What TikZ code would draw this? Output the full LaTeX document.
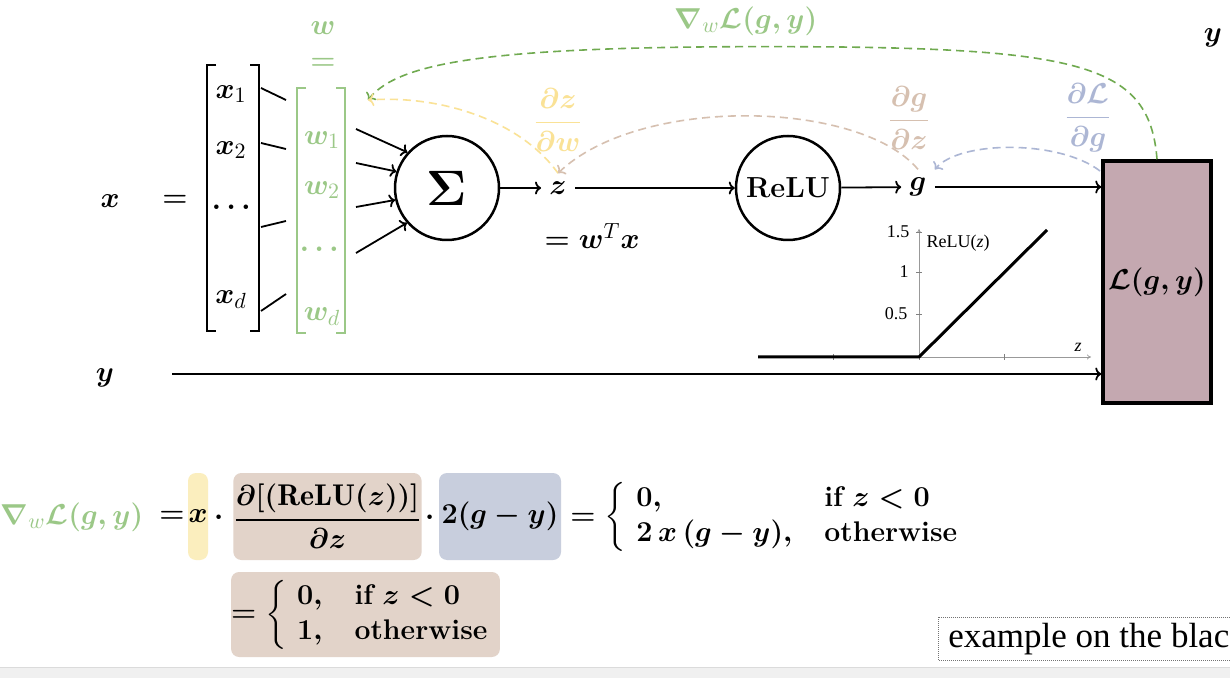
\documentclass[tikz,border=0pt]{standalone}
\usepackage{fontspec}
\usepackage{amsmath}
\usetikzlibrary{arrows.meta}
\newfontfamily\serifB{Liberation Serif}
\newcommand{\nb}[1]{\text{\unboldmath$#1$}}
\definecolor{wgreen}{RGB}{155,200,135}
\definecolor{dgreen}{RGB}{112,170,80}
\definecolor{yel}{RGB}{250,226,150}
\definecolor{yelbox}{RGB}{251,238,190}
\definecolor{tanc}{RGB}{214,192,176}
\definecolor{tanbox}{RGB}{226,211,201}
\definecolor{blu}{RGB}{172,182,212}
\definecolor{blubox}{RGB}{200,206,221}
\definecolor{lossfill}{RGB}{196,168,176}
\begin{document}
\begin{tikzpicture}[x=0.5pt,y=-0.5pt,
  lab/.style={inner sep=1pt,font=\fontsize{15}{18}\selectfont\boldmath},
  grn/.style={lab,text=wgreen},
  arr/.style={line width=0.9pt,-{To[length=3pt,width=6.5pt]}},
  link/.style={line width=0.9pt},
  dsh/.style={line width=0.8pt,dash pattern=on 4pt off 2.5pt,-{To[length=3pt,width=6.5pt]}},
  hbox/.style={rounded corners=4pt,inner sep=0pt,minimum height=43.5pt},
  tickm/.style={gray,line width=0.3pt},
  small/.style={inner sep=1pt,font=\serifB\fontsize{9}{10}\selectfont},
  axisl/.style={gray!80,line width=0.35pt,-{To[length=2pt,width=2.5pt]}},
  eqs/.style={inner sep=1pt,font=\fontsize{14.2}{17.5}\selectfont\boldmath},
]
\useasboundingbox (0,0) rectangle (1230,678);
\clip (0,0) rectangle (1230,678);
\fill[white] (0,0) rectangle (1230,678);

% ---- input vector x
\node[lab] (xl) at (110,201) {$x$};
\node[lab] (xeq) at (175,201) {$=$};
\draw[line width=1.3pt] (216,65) -- (207,65) -- (207,331) -- (216,331);
\draw[line width=1.3pt] (250,65) -- (259,65) -- (259,331) -- (250,331);
\node[lab] (x1) at (231,94) {$x_{\nb{1}}$};
\node[lab] (x2) at (231,150) {$x_{\nb{2}}$};
\node[lab] (xdots) at (234,207) {$\dots$};
\node[lab] (xd) at (231,300) {$x_{\nb{d}}$};

% ---- weight vector w
\node[grn] (wl) at (323,28) {$w$};
\node[grn] (weq) at (323,64) {$=$};
\draw[wgreen,line width=1pt] (306,88) -- (297,88) -- (297,333) -- (306,333);
\draw[wgreen,line width=1pt] (336,88) -- (345,88) -- (345,333) -- (336,333);
\node[grn] (w1) at (322,140) {$w_{\nb{1}}$};
\node[grn] (w2) at (322,190) {$w_{\nb{2}}$};
\node[grn] (wdots) at (322,249) {$\dots$};
\node[grn] (wd) at (322,317) {$w_{\nb{d}}$};

% ---- links x -> w
\coordinate (a1) at (261,88);  \coordinate (b1) at (286,100);
\coordinate (a2) at (261,143); \coordinate (b2) at (286,149);
\coordinate (a3) at (261,227); \coordinate (b3) at (286,221);
\coordinate (a4) at (261,311); \coordinate (b4) at (286,294);
\draw[link] (a1) -- (b1);
\draw[link] (a2) -- (b2);
\draw[link] (a3) -- (b3);
\draw[link] (a4) -- (b4);

% ---- sum node
\node[circle,draw,line width=1.25pt,minimum size=52pt,inner sep=0pt,font=\fontsize{27}{30}\selectfont\boldmath] (sig) at (447,188) {$\Sigma$};
\coordinate (i1) at (356,129);
\coordinate (i2) at (356,163);
\coordinate (i3) at (356,207);
\coordinate (i4) at (356,253);
\draw[arr] (i1) -- (sig.138);
\draw[arr] (i2) -- (sig.162);
\draw[arr] (i3) -- (sig.193);
\draw[arr] (i4) -- (sig.221);

% ---- z, ReLU, g
\node[lab,inner sep=4pt] (z) at (558,188) {$z$};
\draw[arr] (sig) -- (z);
\node[lab] (wtx) at (592,236) {$=w^{\nb{T}}x$};
\node[circle,draw,line width=1.25pt,minimum size=52pt,inner sep=0pt,font=\fontsize{14.5}{17}\selectfont\bfseries] (relu) at (788,188) {ReLU};
\draw[arr] (z) -- (relu);
\node[lab,inner sep=4pt] (g) at (918,187) {$g$};
\draw[arr] (relu) -- (g);

% ---- loss box
\node[lab,draw,line width=1.75pt,fill=lossfill,minimum width=54pt,minimum height=121pt,inner sep=0pt,font=\fontsize{15.5}{18}\selectfont\boldmath] (L) at (1157,282) {$\mathcal{L}(g,y)$};
\draw[arr] (g) -- (g -| L.west);
\node[lab] (yl) at (105,378) {$y$};
\coordinate (ys) at (172,374);
\draw[arr] (ys) -- (ys -| L.west);
\node[lab] (ytr) at (1213,38) {$y$};

% ---- ReLU plot
\draw[axisl] (758,357) -- (1091,357);
\draw[axisl] (919,357) -- (919,229);
\foreach \yy in {314,272,232} \draw[tickm] (916,\yy) -- (922,\yy);
\foreach \xx in {833,919,1004} \draw[tickm] (\xx,354) -- (\xx,360);
\draw[line width=1.5pt] (758,357) -- (919,357) -- (1047,230);
\node[small] (t15) at (898,232) {1.5};
\node[small] (t1) at (904,272) {1};
\node[small] (t05) at (896,314) {0.5};
\node[small] (rlab) at (958,243) {ReLU(\textit{z})};
\node[small] (zlab) at (1078,347) {\textit{z}};

% ---- backward (dashed) arrows and labels
\node[grn,inner sep=0pt] (gradlab) at (746,21) {$\nabla_{\nb{w}}\mathcal{L}(g,y)$};
\coordinate (wtip) at (368,100);
\coordinate (bstart) at (1100,171);
\draw[dsh,dgreen] (L.north) .. controls (1150,70) and (1090,50) .. (840,47) .. controls (500,44) and (400,60) .. (wtip);
\draw[dsh,yel] (z.north) .. controls (520,120) and (440,95) .. (wtip);
\draw[dsh,tanc] (g.north) .. controls (860,100) and (640,95) .. (z.north);
\draw[dsh,blu] (bstart) .. controls (1060,140) and (960,140) .. (g.north east);
\node[lab,text=yel] (dzdw) at (558,120) {$\displaystyle\frac{\partial z}{\partial w}$};
\node[lab,text=tanc] (dgdz) at (909,118) {$\displaystyle\frac{\partial g}{\partial z}$};
\node[lab,text=blu] (dLdg) at (1088,118) {$\displaystyle\frac{\partial \mathcal{L}}{\partial g}$};

% ---- bottom equation
\node[grn] (eqL) at (72,517) {$\nabla_{\nb{w}}\mathcal{L}(g,y)$};
\node[lab] (eq1) at (172,517) {$=$};
\node[lab,hbox,fill=yelbox,minimum width=10pt] (xb) at (198,516.5) {$x$};
\node[lab,anchor=base] (dot1) at (219,524) {$\cdot$};
\node[lab,hbox,fill=tanbox,minimum width=92.5pt] (fb) at (327.5,516.5) {$\displaystyle\frac{\partial[(\mathrm{ReLU}(z))]}{\partial z}$};
\node[lab,anchor=base] (dot2) at (430,524) {$\cdot$};
\node[lab,hbox,fill=blubox,minimum width=61pt] (gb) at (500,516.5) {$2(g-y)$};
\node[eqs,anchor=west] (case1) at (568,517) {$=\left\{\begin{array}{@{\hspace{5pt}}l@{\hspace{16pt}}l}0, & \textbf{if}\ z<0\\ 2\,x\,(g-y), & \textbf{otherwise}\end{array}\right.$};
\node[eqs,hbox,fill=tanbox,minimum width=132.5pt,minimum height=42.5pt] (cb) at (365.5,614.5) {$=\left\{\begin{array}{@{\hspace{5pt}}l@{\hspace{16pt}}l}0, & \textbf{if}\ z<0\\ 1, & \textbf{otherwise}\end{array}\right.$};

% ---- footer
\fill[black!6] (0,667) rectangle (1230,678);
\draw[black!14,line width=0.5pt] (0,667) -- (1230,667);
\draw[black!55,dash pattern=on 0.4pt off 0.6pt,line width=0.5pt] (938,617) rectangle (1260,660);
\node[anchor=west,inner sep=0pt,font=\serifB\fontsize{17.5}{20}\selectfont] (ex) at (948,639) {example on the blac};
\end{tikzpicture}
\end{document}
